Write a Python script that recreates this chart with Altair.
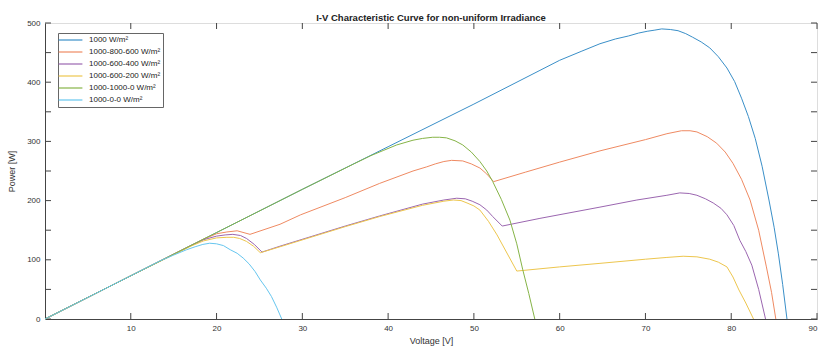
import altair as alt
import pandas as pd

# ---- data ----
series_names = ["1000 W/m²", "1000-800-600 W/m²", "1000-600-400 W/m²",
                "1000-600-200 W/m²", "1000-1000-0 W/m²", "1000-0-0 W/m²"]
series_colors = ["#3a8fc8", "#ef8a62", "#9b66b0", "#edc64e", "#86b447", "#66c6ef"]

v_1000 = [0, 10, 20, 30, 40, 50, 57.7, 60, 62.5, 64.7, 66.5, 68, 69.2, 70.2, 71.1, 71.9, 72.9, 73.8, 74.7, 75.5, 76.5, 77.5, 78.5, 79.5, 80.4, 81.2, 82.0, 82.8, 83.6, 84.4, 85.0, 85.5, 86.0, 86.5]
p_1000 = [0, 73, 146, 219, 291, 363, 420, 437, 452, 465, 473, 478, 483, 486, 488, 490, 489, 487, 482, 476, 468, 458, 443, 424, 401, 373, 342, 305, 258, 201, 155, 110, 58, 0]

v_886 = [0, 10, 17, 18.5, 20, 21.2, 22.4, 23.9, 27.4, 29.8, 35, 39, 42.9, 44.5, 45.5, 46.5, 47.4, 48.7, 49.7, 50.7, 51.5, 52.3, 56, 60, 64.7, 70, 72.5, 74.2, 75.2, 76.0, 77.2, 78.3, 79.3, 80.2, 81.2, 82.2, 83.2, 84.1, 84.7, 85.2]
p_886 = [0, 73, 124, 135, 144, 147, 149, 143, 160, 176, 205, 229, 250, 257, 262, 266, 268, 267, 262, 255, 245, 232, 248, 265, 284, 303, 313, 318, 318, 316, 308, 297, 282, 263, 236, 201, 150, 88, 45, 0]

v_864 = [0, 10, 17, 18.5, 20, 21.0, 21.9, 22.8, 23.5, 24.4, 25.3, 27.4, 35, 39, 44, 46.5, 48.0, 49.0, 49.8, 50.7, 51.5, 52.2, 53.3, 57.7, 64.7, 69, 72.5, 74.0, 75.1, 76.0, 77.0, 77.9, 78.8, 79.5, 80.3, 81.0, 81.7, 82.4, 83.2, 84.0]
p_864 = [0, 73, 124, 134, 140, 142, 143, 141, 136, 126, 113, 123, 157, 174, 194, 201, 204, 203, 199, 193, 184, 173, 157, 170, 189, 201, 209, 213, 212, 209, 203, 196, 187, 176, 158, 133, 114, 91, 50, 0]

v_862 = [0, 10, 17, 18.5, 20, 21.2, 22.0, 22.7, 23.5, 24.3, 25.1, 27.4, 35, 39, 44, 46.5, 47.6, 48.5, 49.2, 50.0, 50.7, 51.7, 52.7, 55.0, 60, 64.7, 70, 72.5, 74.4, 76.0, 77.5, 78.5, 79.5, 80.2, 80.9, 81.7, 82.6]
p_862 = [0, 73, 123, 132, 137, 138, 138, 136, 131, 123, 112, 122, 156, 173, 192, 199, 201, 200, 196, 191, 184, 165, 142, 81, 88, 94, 101, 104, 106, 105, 101, 96, 88, 71, 49, 27, 0]

v_8100 = [0, 10, 20, 30, 36, 38, 39.5, 41, 42.9, 44.0, 45.2, 46.0, 46.8, 47.8, 48.7, 49.7, 50.7, 51.5, 52.2, 53.2, 54.2, 55.0, 55.7, 56.4, 57.1]
p_8100 = [0, 73, 146, 219, 262, 276, 285, 294, 302, 305, 307, 307, 306, 301, 294, 282, 266, 250, 232, 202, 167, 127, 83, 43, 0]

v_800 = [0, 10, 13.4, 15, 16.5, 17.5, 18.4, 19.2, 20.0, 20.8, 21.6, 22.4, 23.1, 23.8, 24.5, 25.1, 25.8, 26.4, 27.0, 27.6]
p_800 = [0, 73, 98, 108, 117, 122, 126, 128, 127, 124, 117, 111, 103, 93, 80, 66, 52, 38, 20, 0]

x_ticks = [10, 20, 30, 40, 50, 60, 70, 80, 90]
y_ticks = [0, 50, 100, 150, 200, 250, 300, 350, 400, 450, 500]

# ---- build table ----
rows = []
for name, vs, ps in zip(series_names,
                        [v_1000, v_886, v_864, v_862, v_8100, v_800],
                        [p_1000, p_886, p_864, p_862, p_8100, p_800]):
    for i, (v, p) in enumerate(zip(vs, ps)):
        rows.append({"series": name, "V": v, "P": p, "i": i})
df = pd.DataFrame(rows)

W, H = 772, 296
AX = "#444444"
FONT = "Liberation Sans"

xs = alt.Scale(domain=[0, 90], nice=False, zero=False)
ys = alt.Scale(domain=[0, 500], nice=False)

lines = alt.Chart(df).mark_line(strokeWidth=1.0, interpolate="linear").encode(
    x=alt.X("V:Q", scale=xs,
            axis=alt.Axis(values=x_ticks, title="Voltage [V]", grid=False, ticks=False,
                          labelPadding=5, domainColor=AX, labelColor="#333",
                          labelFontSize=8, titleFontSize=9, titleFontWeight="normal",
                          titleColor="#333", titlePadding=4, labelFont=FONT, titleFont=FONT)),
    y=alt.Y("P:Q", scale=ys,
            axis=alt.Axis(values=y_ticks, title="Power [W]", grid=False, ticks=False,
                          labelPadding=5, domainColor=AX, labelColor="#333",
                          labelFontSize=8, titleFontSize=9, titleFontWeight="normal",
                          titleColor="#333", titlePadding=10, labelFont=FONT, titleFont=FONT)),
    color=alt.Color("series:N",
                    scale=alt.Scale(domain=series_names, range=series_colors),
                    sort=series_names,
                    legend=alt.Legend(title=None, orient="none", legendX=13, legendY=10,
                                      symbolType="M-3.4,0H3.4", symbolSize=49, symbolStrokeWidth=1.2,
                                      symbolOffset=5.5, labelOffset=14, labelFontSize=8,
                                      labelFont=FONT, labelColor="#222",
                                      rowPadding=3, padding=2.5, strokeColor="#666",
                                      fillColor="white")),
    order="i:Q",
)

tick_df_x = pd.DataFrame({"t": x_ticks})
tick_df_y = pd.DataFrame({"t": y_ticks})
bot = alt.Chart(tick_df_x).mark_rule(color=AX, strokeWidth=1).encode(
    x=alt.X("t:Q", scale=xs), y=alt.value(H), y2=alt.value(H - 6))
top = alt.Chart(tick_df_x).mark_rule(color=AX, strokeWidth=1).encode(
    x=alt.X("t:Q", scale=xs), y=alt.value(0), y2=alt.value(6))
left = alt.Chart(tick_df_y).mark_rule(color=AX, strokeWidth=1).encode(
    y=alt.Y("t:Q", scale=ys), x=alt.value(0), x2=alt.value(6))
right = alt.Chart(tick_df_y).mark_rule(color=AX, strokeWidth=1).encode(
    y=alt.Y("t:Q", scale=ys), x=alt.value(W), x2=alt.value(W - 6))

chart = alt.layer(bot, top, left, right, lines).properties(
    width=W, height=H,
    title=alt.Title("I-V Characteristic Curve for non-uniform Irradiance",
                    fontSize=9.5, fontWeight="bold", font=FONT, color="#222", offset=-3),
    autosize=alt.AutoSizeParams(type="none"),
    padding={"left": 45, "top": 23, "right": 1, "bottom": 28},
).configure_view(stroke=AX, strokeWidth=1).configure(background="white")

chart.save("out.html", embed_options={"renderer": "svg", "actions": False})
